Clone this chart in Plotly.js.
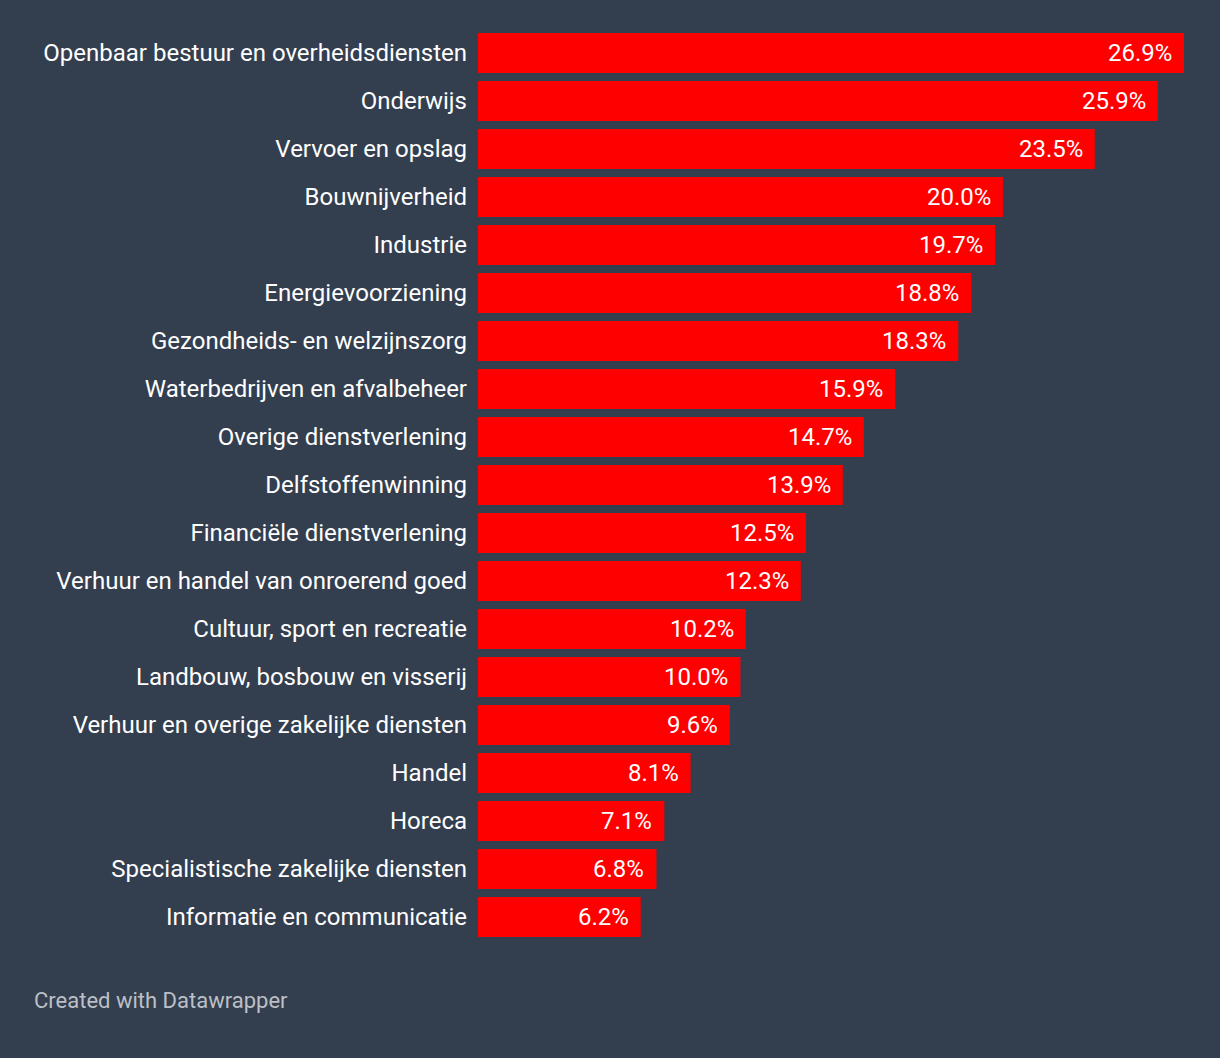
<!DOCTYPE html>
<html>
<head>
<meta charset="utf-8">
<script src="https://cdn.plot.ly/plotly-3.0.1.min.js"></script>
<style>
html,body{margin:0;padding:0;background:#333e4e;}
#chart{width:1220px;height:1058px;}
</style>
</head>
<body>
<div id="chart"></div>
<script>
const categories = [
  "Openbaar bestuur en overheidsdiensten",
  "Onderwijs",
  "Vervoer en opslag",
  "Bouwnijverheid",
  "Industrie",
  "Energievoorziening",
  "Gezondheids- en welzijnszorg",
  "Waterbedrijven en afvalbeheer",
  "Overige dienstverlening",
  "Delfstoffenwinning",
  "Financiële dienstverlening",
  "Verhuur en handel van onroerend goed",
  "Cultuur, sport en recreatie",
  "Landbouw, bosbouw en visserij",
  "Verhuur en overige zakelijke diensten",
  "Handel",
  "Horeca",
  "Specialistische zakelijke diensten",
  "Informatie en communicatie"
];
const values = [26.9, 25.9, 23.5, 20.0, 19.7, 18.8, 18.3, 15.9, 14.7, 13.9, 12.5, 12.3, 10.2, 10.0, 9.6, 8.1, 7.1, 6.8, 6.2];
const valueLabels = values.map(v => v.toFixed(1) + "%");

const font = "Roboto, 'Noto Sans', sans-serif";

const trace = {
  type: "bar",
  orientation: "h",
  x: values,
  y: categories,
  marker: {color: "#ff0000"},
  hoverinfo: "skip"
};

const annotations = values.map((v, i) => ({
  x: v, y: categories[i], xref: "x", yref: "y",
  text: valueLabels[i], showarrow: false,
  xanchor: "right", xshift: -10,
  font: {family: font, size: 24, color: "#ffffff"}
}));

const plotW = 1220 - 478 - 36;
const plotH = 1058 - 29 - 117;
annotations.push({
  x: (32 - 478) / plotW, y: (1058 - 117 - 1000) / plotH,
  xref: "paper", yref: "paper", showarrow: false,
  text: "Created with Datawrapper", xanchor: "left", yanchor: "middle",
  font: {family: font, size: 22, color: "#bcc0c6"}
});

const layout = {
  width: 1220, height: 1058,
  paper_bgcolor: "#333e4e",
  plot_bgcolor: "#333e4e",
  margin: {l: 478, r: 36, t: 29, b: 117},
  bargap: 8/48,
  showlegend: false,
  xaxis: {range: [0, 26.9], visible: false, fixedrange: true},
  yaxis: {
    type: "category", autorange: "reversed",
    showgrid: false, zeroline: false, showline: false,
    ticks: "", ticklabelstandoff: 10,
    tickfont: {family: font, size: 24, color: "#ffffff"}
  },
  annotations: annotations
};

Plotly.newPlot("chart", [trace], layout, {displayModeBar: false, staticPlot: true});
</script>
</body>
</html>
